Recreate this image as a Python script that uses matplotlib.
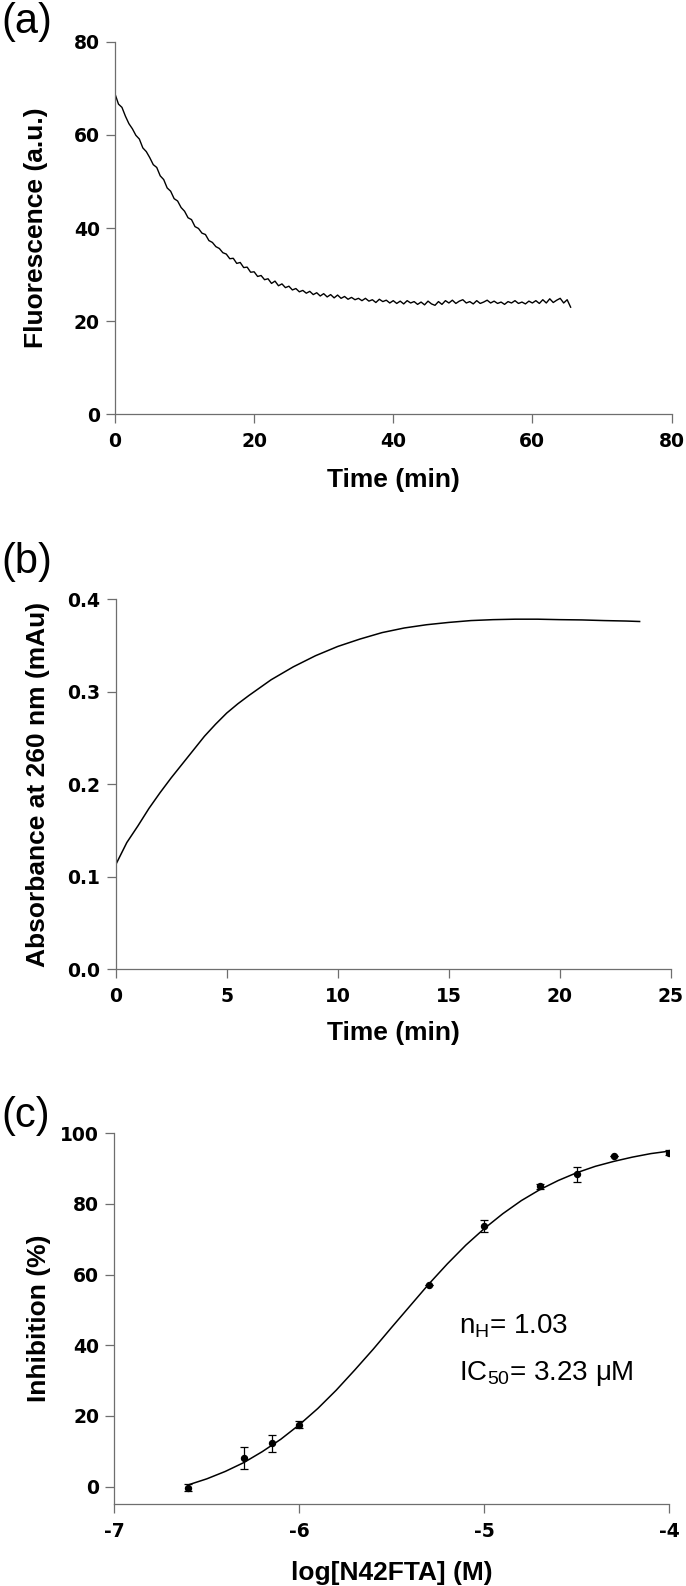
import numpy as np
import matplotlib
matplotlib.use("Agg")
import matplotlib.pyplot as plt

plt.rcParams['font.family'] = ['DejaVu Sans']
plt.rcParams['axes.unicode_minus'] = False
plt.rcParams['mathtext.default'] = 'regular'

# ---------------- data ----------------
# (a) fluorescence trace, sampled every 0.5 min from 0 to 65.5 min
fluor_step_min = 0.5
fluor_values = [
    68.8, 66.6, 65.9, 64.0, 62.4, 61.3, 59.9, 59.1, 57.2, 56.4,
    55.1, 53.6, 53.0, 51.2, 50.4, 48.6, 47.9, 46.3, 45.8, 44.4,
    43.6, 42.2, 41.8, 40.3, 39.9, 38.9, 38.6, 37.3, 36.9, 36.0,
    35.6, 34.7, 34.4, 33.4, 33.5, 32.4, 32.6, 31.5, 31.6, 30.5,
    30.6, 29.6, 29.8, 28.9, 29.1, 28.1, 28.6, 27.6, 28.0, 27.2,
    27.5, 26.7, 27.0, 26.3, 26.6, 26.0, 26.4, 25.7, 26.1, 25.4,
    25.9, 25.2, 25.7, 25.0, 25.6, 24.9, 25.3, 24.7, 25.1, 24.6,
    24.9, 24.4, 24.9, 24.3, 24.6, 24.0, 24.7, 24.2, 24.5, 23.9,
    24.4, 23.8, 24.3, 23.7, 24.4, 23.9, 24.2, 23.6, 24.1, 23.5,
    24.3, 23.7, 23.4, 24.2, 23.6, 24.4, 23.9, 24.5, 23.8, 24.3,
    24.6, 23.9, 24.2, 23.7, 24.4, 23.8, 24.1, 24.5, 23.9, 24.3,
    23.8, 24.1, 23.6, 24.2, 23.9, 24.4, 23.8, 24.1, 23.7, 24.3,
    23.9, 24.4, 23.8, 24.6, 23.9, 24.8, 24.0, 24.5, 24.9, 23.9,
    24.6, 23.0,
]
fluor_time = np.arange(len(fluor_values)) * fluor_step_min

# (b) absorbance at 260 nm
abs_time = [0, 0.5, 1, 1.5, 2, 2.5, 3, 3.5, 4, 4.5, 5, 5.5, 6, 7, 8, 9, 10,
            11, 12, 13, 14, 15, 16, 17, 18, 19, 20, 21, 22, 23, 23.6]
abs_values = [0.113, 0.137, 0.155, 0.174, 0.191, 0.207, 0.222, 0.237, 0.252,
              0.265, 0.277, 0.287, 0.296, 0.313, 0.327, 0.339, 0.349, 0.357,
              0.364, 0.369, 0.3725, 0.375, 0.377, 0.378, 0.3785, 0.3785,
              0.378, 0.3777, 0.377, 0.3765, 0.376]

# (c) dose-response
log_conc = [-6.60, -6.30, -6.15, -6.00, -5.30, -5.00, -4.70, -4.50, -4.30, -4.00]
inhibition = [-0.3, 8.1, 12.3, 17.5, 56.9, 73.7, 84.9, 88.3, 93.6, 94.5]
inhibition_err = [1.0, 3.2, 2.4, 1.0, 0.0, 1.6, 0.7, 2.0, 0.0, 0.8]

fit_log_conc = [-6.6, -6.5, -6.4, -6.3, -6.2, -6.1, -6.0, -5.9, -5.8, -5.7,
                -5.6, -5.5, -5.4, -5.3, -5.2, -5.1, -5.0, -4.9, -4.8, -4.7,
                -4.6, -4.5, -4.4, -4.3, -4.2, -4.1, -4.0]
fit_inhibition = [0.5, 2.2, 4.3, 6.8, 9.9, 13.4, 17.5, 22.1, 27.3, 33.0,
                  38.9, 45.1, 51.2, 57.3, 63.0, 68.3, 73.0, 77.2, 80.9, 84.0,
                  86.6, 88.8, 90.6, 92.0, 93.2, 94.2, 94.9]

# ---------------- layout ----------------
W, H = 686, 1586
fig = plt.figure(figsize=(W / 100, H / 100), dpi=100)

def add_axes_px(left, right, top, bottom):
    return fig.add_axes([left / W, 1 - bottom / H, (right - left) / W, (bottom - top) / H])

LAB_FONT = ['Liberation Sans', 'DejaVu Sans']
SPINE_COL = '#6e6e6e'

def style(ax):
    for s in ['top', 'right']:
        ax.spines[s].set_visible(False)
    for s in ['left', 'bottom']:
        ax.spines[s].set_color(SPINE_COL)
        ax.spines[s].set_linewidth(0.9)
    ax.tick_params(direction='out', length=6.5, width=0.9, color=SPINE_COL,
                   labelsize=13.5, pad=4.5)
    ax.tick_params(axis='x', pad=6.5)
    for lab in ax.get_xticklabels() + ax.get_yticklabels():
        lab.set_fontweight('bold')
        lab.set_family('DejaVu Sans')

def fig_text(xpx, ypx, s, **kw):
    fig.text(xpx / W, 1 - ypx / H, s, **kw)

# (a)
axA = add_axes_px(115, 671.5, 41.7, 414.3)
axA.plot(fluor_time, fluor_values, color='black', lw=1.0)
axA.set_xlim(0, 80)
axA.set_ylim(0, 80)
axA.set_xticks([0, 20, 40, 60, 80])
axA.set_yticks([0, 20, 40, 60, 80])
style(axA)
fig_text(36, 228, 'Fluorescence (a.u.)', rotation=90, ha='center', va='center',
         fontsize=19, fontweight='bold', family=LAB_FONT)
fig_text(393, 480, 'Time (min)', ha='center', va='center',
         fontsize=19, fontweight='bold', family=LAB_FONT)
fig_text(1, 33, '(a)', ha='left', va='baseline', fontsize=30, family=LAB_FONT)

# (b)
axB = add_axes_px(115.7, 670.7, 599.3, 969.3)
axB.plot(abs_time, abs_values, color='black', lw=1.1)
axB.set_xlim(0, 25)
axB.set_ylim(0, 0.4)
axB.set_xticks([0, 5, 10, 15, 20, 25])
axB.set_yticks([0.0, 0.1, 0.2, 0.3, 0.4])
axB.set_yticklabels(['0.0', '0.1', '0.2', '0.3', '0.4'])
style(axB)
fig_text(38, 784, 'Absorbance at 260 nm (mAu)', rotation=90, ha='center', va='center',
         fontsize=19, fontweight='bold', family=LAB_FONT)
fig_text(393, 1033, 'Time (min)', ha='center', va='center',
         fontsize=19, fontweight='bold', family=LAB_FONT)
fig_text(1, 573, '(b)', ha='left', va='baseline', fontsize=30, family=LAB_FONT)

# (c)
axC = add_axes_px(114.3, 669.3, 1133.1, 1504.3)
axC.plot(fit_log_conc, fit_inhibition, color='black', lw=1.1)
axC.errorbar(log_conc, inhibition, yerr=inhibition_err, fmt='o', color='black',
             ms=4.3, capsize=3, elinewidth=0.9, capthick=0.9)
axC.set_xlim(-7, -4)
axC.set_ylim(-5, 100)
axC.set_xticks([-7, -6, -5, -4])
axC.set_yticks([0, 20, 40, 60, 80, 100])
style(axC)
fig_text(39, 1318, 'Inhibition (%)', rotation=90, ha='center', va='center',
         fontsize=19, fontweight='bold', family=LAB_FONT)
fig_text(392, 1573, 'log[N42FTA] (M)', ha='center', va='center',
         fontsize=19, fontweight='bold', family=LAB_FONT)
fig_text(1, 1127, '(c)', ha='left', va='baseline', fontsize=30, family=LAB_FONT)
fig_text(459, 1334, r'n$_{H}$= 1.03', ha='left', va='baseline', fontsize=20,
         family=LAB_FONT)
fig_text(459, 1380, r'IC$_{50}$= 3.23 μM', ha='left', va='baseline', fontsize=20,
         family=LAB_FONT)

fig.savefig('out.png', dpi=100)
